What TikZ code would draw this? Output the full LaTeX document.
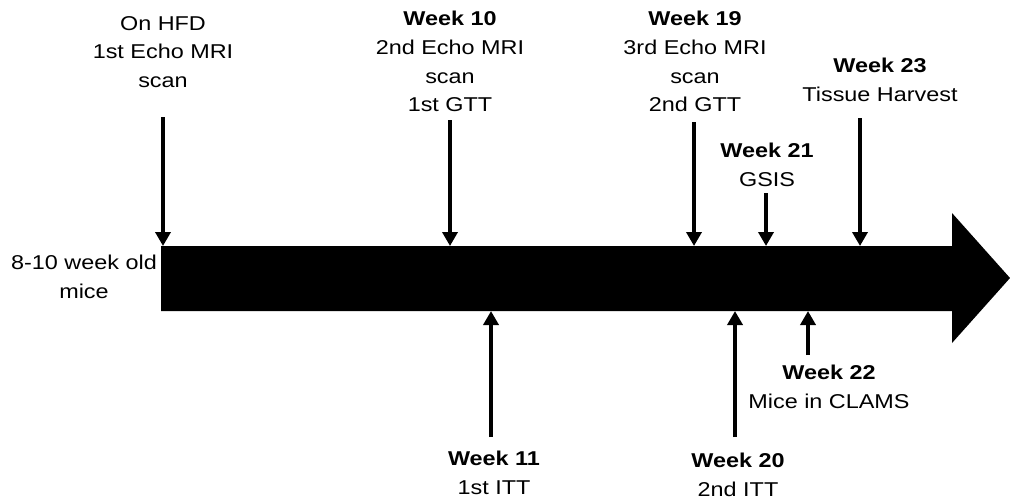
\documentclass[tikz,border=0pt]{standalone}
\usepackage{fontspec}
\setmainfont{Liberation Sans}[FakeStretch=1.17]
\usetikzlibrary{arrows.meta}

\tikzset{
  lbl/.style={anchor=north, inner sep=0pt, align=center,
    font=\fontsize{10pt}{14.3pt}\selectfont},
  evt/.style={line width=2.2pt, -{Triangle[width=7.5pt,length=7pt]}}
}

\begin{document}
\begin{tikzpicture}[x=0.5pt,y=-0.5pt]
\useasboundingbox (0,0) rectangle (1010,499);

% Time bar
\fill (161,246) -- (952,246) -- (952,213) -- (1010,278) -- (952,343) -- (952,311) -- (161,311) -- cycle;
\coordinate (bartop) at (0,246);
\coordinate (barbot) at (0,311);

% Start
\node[lbl] (mice) at (84,255) {8-10 week old\\mice};

% Events above the bar
\node[lbl] (w0) at (163,16) {On HFD\\1st Echo MRI\\scan};
\node[lbl] (w10) at (450,11) {\textbf{Week 10}\\2nd Echo MRI\\scan\\1st GTT};
\node[lbl] (w19) at (695,11) {\textbf{Week 19}\\3rd Echo MRI\\scan\\2nd GTT};
\node[lbl] (w21) at (767,143) {\textbf{Week 21}\\GSIS};
\node[lbl] (w23) at (880,58) {\textbf{Week 23}\\Tissue Harvest};

% Events below the bar
\node[lbl] (w11) at (494,451) {\textbf{Week 11}\\1st ITT};
\node[lbl] (w20) at (738,453) {\textbf{Week 20}\\2nd ITT};
\node[lbl] (w22) at (829,365) {\textbf{Week 22}\\Mice in CLAMS};

% Arrows down
\coordinate (a0) at (163,117);
\coordinate (a10) at (450,120);
\coordinate (a19) at (694,122);
\coordinate (a21) at (766,193);
\coordinate (a23) at (860,118);
\foreach \a in {a0,a10,a19,a21,a23} {
    \draw[evt] (\a) -- (\a |- bartop);
}

% Arrows up
\coordinate (a11) at (491,437);
\coordinate (a20) at (735,437);
\coordinate (a22) at (808,355);
\foreach \a in {a11,a20,a22} {
    \draw[evt] (\a) -- (\a |- barbot);
}

\end{tikzpicture}
\end{document}
